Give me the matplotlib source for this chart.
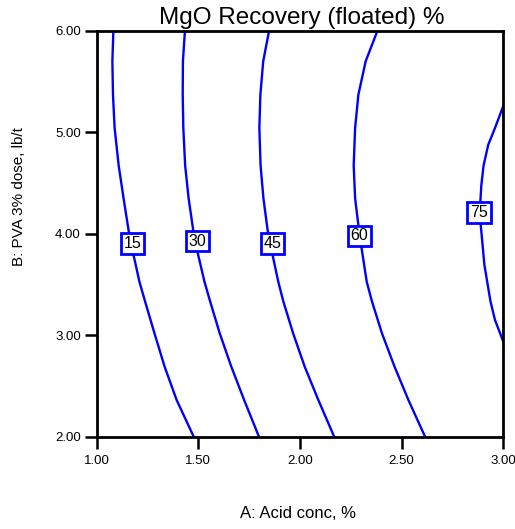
import matplotlib.pyplot as plt

plt.rcParams['font.family'] = ['Liberation Sans', 'DejaVu Sans']

# contour levels and their traced points (A: acid conc, B: PVA dose)
levels = [15, 30, 45, 60, 75]

b_common = [6.00, 5.699, 5.369, 5.041, 4.672, 4.349, 4.03, 3.80, 3.527, 3.332, 3.019, 2.690, 2.362, 2.00]

a_15 = [1.082, 1.077, 1.080, 1.088, 1.108, 1.132, 1.157, 1.180, 1.210, 1.238, 1.284, 1.334, 1.393, 1.477]
a_30 = [1.434, 1.424, 1.423, 1.426, 1.435, 1.452, 1.475, 1.498, 1.530, 1.558, 1.605, 1.662, 1.725, 1.798]
a_45 = [1.848, 1.819, 1.805, 1.800, 1.806, 1.820, 1.841, 1.864, 1.893, 1.918, 1.966, 2.023, 2.090, 2.168]

a_60 = [2.381, 2.323, 2.287, 2.271, 2.264, 2.271, 2.287, 2.303, 2.328, 2.354, 2.403, 2.465, 2.533, 2.615]
b_60 = [6.00, 5.699, 5.369, 5.041, 4.672, 4.349, 4.086, 3.856, 3.527, 3.332, 3.019, 2.690, 2.362, 2.00]

a_75 = [3.000, 2.959, 2.926, 2.903, 2.892, 2.887, 2.889, 2.907, 2.937, 2.959, 3.000]
b_75 = [5.258, 5.041, 4.877, 4.672, 4.480, 4.315, 4.086, 3.692, 3.332, 3.150, 2.936]

# where each level label sits
label_a = [1.178, 1.495, 1.863, 2.292, 2.880]
label_b = [3.905, 3.927, 3.905, 3.980, 4.209]

x_ticks = [1.0, 1.5, 2.0, 2.5, 3.0]
y_ticks = [2.0, 3.0, 4.0, 5.0, 6.0]

fig = plt.figure(figsize=(5.15, 5.29), dpi=100)
ax = fig.add_axes([0.1878, 0.1745, 0.7895, 0.7675])

lines_a = [a_15, a_30, a_45, a_60, a_75]
lines_b = [b_common, b_common, b_common, b_60, b_75]
for xs, ys in zip(lines_a, lines_b):
    ax.plot(xs, ys, color='#0000ff', lw=1.7, zorder=2, solid_joinstyle='round')

for lev, xa, yb in zip(levels, label_a, label_b):
    ax.text(xa, yb, str(lev), fontsize=11.5, ha='center', va='center', zorder=3,
            bbox=dict(boxstyle='square,pad=0.17', fc='white', ec='#0000ff', lw=2))

ax.set_xlim(1, 3)
ax.set_ylim(2, 6)
ax.set_xticks(x_ticks)
ax.set_yticks(y_ticks)
ax.set_xticklabels(['%.2f' % v for v in x_ticks])
ax.set_yticklabels(['%.2f' % v for v in y_ticks])
ax.tick_params(direction='out', length=8.5, width=1.8, labelsize=9.5, pad=3)
ax.tick_params(axis='x', pad=5)
for s in ax.spines.values():
    s.set_linewidth(2)

fig.text(302 / 515, 1 - 24 / 529, 'MgO Recovery (floated) %', fontsize=17.5,
         ha='center', va='baseline')
fig.text(298 / 515, 1 - 514 / 529, 'A: Acid conc, %', fontsize=12,
         ha='center', va='center')
fig.text(19 / 515, 1 - 197 / 529, 'B: PVA 3% dose, lb/t', fontsize=11,
         ha='center', va='center', rotation=90)

plt.savefig('out.png', dpi=100)
